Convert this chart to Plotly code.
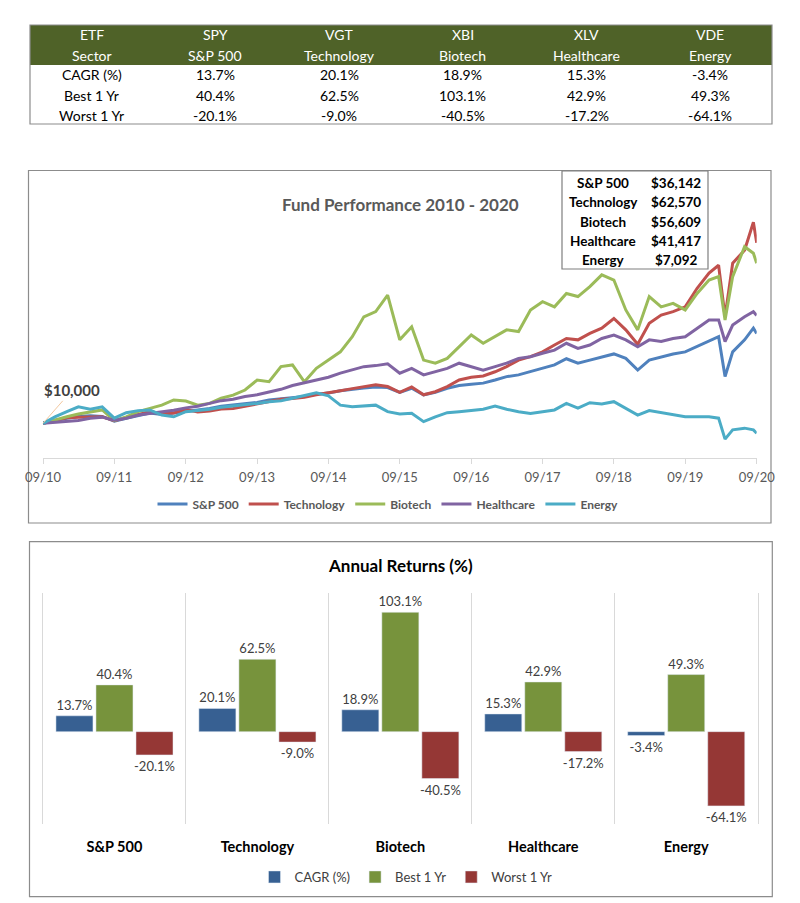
import plotly.graph_objects as go

W, H = 800, 903
FONT = "Lato"


def px(x):
    return x / W


def py(y):
    return 1 - y / H


# ---------------- data ----------------
etfs = ["SPY", "VGT", "XBI", "XLV", "VDE"]
sectors = ["S&P 500", "Technology", "Biotech", "Healthcare", "Energy"]
metrics = ["CAGR (%)", "Best 1 Yr", "Worst 1 Yr"]
cagr = [13.7, 20.1, 18.9, 15.3, -3.4]
best = [40.4, 62.5, 103.1, 42.9, 49.3]
worst = [-20.1, -9.0, -40.5, -17.2, -64.1]

dates = [
    "2010-09-01", "2010-11-01", "2011-01-01", "2011-03-01", "2011-05-01", "2011-07-01",
    "2011-09-01", "2011-11-01", "2012-01-01", "2012-03-01", "2012-05-01", "2012-07-01",
    "2012-09-01", "2012-11-01", "2013-01-01", "2013-03-01", "2013-05-01", "2013-07-01",
    "2013-09-01", "2013-11-01", "2014-01-01", "2014-03-01", "2014-05-01", "2014-07-01",
    "2014-09-01", "2014-11-01", "2015-01-01", "2015-03-01", "2015-05-01", "2015-07-01",
    "2015-09-01", "2015-11-01", "2016-01-01", "2016-03-01", "2016-05-01", "2016-07-01",
    "2016-09-01", "2016-11-01", "2017-01-01", "2017-03-01", "2017-05-01", "2017-07-01",
    "2017-09-01", "2017-11-01", "2018-01-01", "2018-03-01", "2018-05-01", "2018-07-01",
    "2018-09-01", "2018-11-01", "2019-01-01", "2019-03-01", "2019-05-01", "2019-07-01",
    "2019-09-01", "2019-11-01", "2020-01-01", "2020-02-19", "2020-03-23", "2020-05-01",
    "2020-07-01", "2020-08-15", "2020-09-01",
]

sp500 = [
    10000, 10800, 11500, 12000, 12200, 12000, 10600, 11500, 12300, 13000, 12600, 13000,
    13600, 13800, 14300, 15000, 15400, 15800, 16100, 16800, 17200, 17500, 17800, 18500,
    18800, 19500, 20000, 20300, 20600, 20400, 19000, 20200, 18300, 19000, 20200, 21000,
    21400, 21700, 22600, 23600, 24100, 25000, 26000, 27000, 28800, 27500, 28400, 29400,
    30200, 28900, 25500, 28400, 29400, 30200, 30800, 32300, 33800, 35200, 23600, 30800,
    34300, 37700, 36142,
]
technology = [
    10000, 10800, 11600, 11800, 11800, 11900, 10800, 11600, 12400, 13400, 12800, 13000,
    14000, 13300, 13600, 14200, 14300, 15000, 15500, 16300, 17000, 17200, 17600, 18300,
    18800, 19500, 20100, 20700, 21200, 20700, 19000, 20600, 18300, 19200, 20700, 22600,
    23400, 23800, 25000, 26500, 28400, 29400, 30800, 32800, 34700, 34300, 36200, 37700,
    40500, 37200, 33000, 39100, 41500, 42500, 43900, 49300, 53700, 56000, 41000, 56600,
    60400, 68500, 62570,
]
biotech = [
    10000, 11000, 11900, 12700, 13400, 13900, 10800, 11900, 13400, 14400, 15300, 16800,
    16500, 15300, 15800, 17300, 18200, 19700, 22600, 22100, 26500, 27000, 22100, 26000,
    28400, 30800, 35200, 41000, 42500, 47300, 34300, 38100, 28400, 27500, 28900, 32300,
    35700, 33300, 35200, 37200, 36700, 43000, 45400, 43900, 47800, 46900, 49800, 53200,
    51700, 43000, 37200, 46900, 43900, 44900, 43000, 47800, 51700, 52700, 40100, 52700,
    61400, 59500, 56609,
]
healthcare = [
    10000, 10200, 10600, 10800, 11500, 11800, 10900, 11500, 12400, 12800, 13200, 13800,
    14500, 15000, 15800, 16600, 17000, 17800, 18300, 19000, 19900, 21000, 21800, 22400,
    23400, 24600, 25500, 26500, 26800, 27300, 24600, 26000, 24100, 25000, 26000, 27500,
    26500, 25500, 26500, 27500, 28900, 29400, 30400, 31300, 33300, 31800, 32800, 34700,
    35700, 34300, 32300, 34300, 33800, 34700, 35200, 37700, 40100, 40100, 33800, 38600,
    41000, 42500, 41417,
]
energy = [
    10000, 11900, 13400, 14800, 14100, 14800, 11500, 13100, 13700, 13900, 12400, 11900,
    13400, 13700, 14100, 14700, 15000, 15300, 15800, 16300, 16600, 17300, 18200, 18900,
    18000, 15300, 14800, 15000, 15300, 13400, 12700, 12900, 10500, 11900, 13100, 13400,
    13700, 14100, 15000, 14100, 13400, 12900, 13400, 13900, 15800, 14400, 16000, 15600,
    16300, 14400, 12400, 13700, 13100, 12700, 11900, 11900, 11900, 11500, 5400, 8100,
    8600, 8100, 7092,
]

series_values = [sp500, technology, biotech, healthcare, energy]
line_colors = ["#4F81BD", "#C0504D", "#9BBB59", "#8064A2", "#4BACC6"]
bar_names = ["CAGR (%)", "Best 1 Yr", "Worst 1 Yr"]
bar_colors = ["#376092", "#77933C", "#953735"]

OLIVE = "#4F6228"
GRID = "#D9D9D9"
BORDER = "#8C8C8C"


def pct(v):
    return f"{v:.1f}%"


fig = go.Figure()

# ---------------- line chart ----------------
for name, vals, col in zip(sectors, series_values, line_colors):
    fig.add_trace(go.Scatter(x=dates, y=vals, name=name, mode="lines",
                             line=dict(color=col, width=3),
                             xaxis="x", yaxis="y", legend="legend"))

# ---------------- bar chart ----------------
for name, vals, col in zip(bar_names, [cagr, best, worst], bar_colors):
    fig.add_trace(go.Bar(x=sectors, y=vals, name=name, marker_color=col,
                         texttemplate="%{y:.1f}%", textposition="outside",
                         constraintext="none",
                         textfont=dict(family=FONT, size=13, color="#404040"),
                         cliponaxis=False, xaxis="x2", yaxis="y2", legend="legend2"))

fig.update_layout(
    width=W, height=H,
    margin=dict(l=0, r=0, t=0, b=0, autoexpand=False),
    paper_bgcolor="white", plot_bgcolor="white",
    font=dict(family=FONT, color="#595959"),
    barmode="group", bargap=0.16, bargroupgap=0.075,
    xaxis=dict(type="date", domain=[px(43), px(756.7)], anchor="y", automargin=False,
               range=["2010-09-01", "2020-09-01"], tick0="2010-09-01", dtick="M12",
               tickformat="%m/%y", showline=True, linecolor=GRID, linewidth=1,
               ticks="outside", ticklen=5, tickcolor=GRID,
               tickfont=dict(family=FONT, size=13, color="#595959"),
               showgrid=False, zeroline=False, ticklabelstandoff=3),
    yaxis=dict(domain=[py(457.7), py(182.8)], range=[0, 80000], anchor="x",
               visible=False, automargin=False),
    xaxis2=dict(type="category", domain=[px(43), px(757.7)], anchor="y2", automargin=False,
                tickson="boundaries", showgrid=True, gridcolor=GRID, gridwidth=1,
                ticks="", showline=False, zeroline=False,
                tickfont=dict(family=FONT, size=14.5, color="#000000", weight="bold"),
                ticklabelstandoff=12),
    yaxis2=dict(domain=[py(824.3), py(592.7)], range=[-80, 120], anchor="x2",
                automargin=False, showticklabels=False, showgrid=False, zeroline=False,
                showline=True, mirror=True, linecolor=GRID, linewidth=1, ticks=""),
    legend=dict(orientation="h", x=px(388), xanchor="center", y=py(504),
                yanchor="middle",
                font=dict(family=FONT, size=12, color="#595959", weight="bold"),
                bgcolor="rgba(0,0,0,0)", itemwidth=30),
    legend2=dict(orientation="h", x=px(406), xanchor="center", y=py(877),
                 yanchor="middle", font=dict(family=FONT, size=13, color="#404040"),
                 bgcolor="rgba(0,0,0,0)", itemwidth=30),
    showlegend=True,
)

# ---------------- summary table (header band + cell texts) ----------------
tbl_left, tbl_right, tbl_top, row_h = 30, 772, 25, 20
n_cols = 6
col_w = (tbl_right - tbl_left) / n_cols
table_rows = [
    ["ETF"] + etfs,
    ["Sector"] + sectors,
    [metrics[0]] + [pct(v) for v in cagr],
    [metrics[1]] + [pct(v) for v in best],
    [metrics[2]] + [pct(v) for v in worst],
]
n_header_rows = 2
for r, row in enumerate(table_rows):
    for c, txt in enumerate(row):
        fig.add_annotation(
            text=txt, xref="paper", yref="paper",
            x=px(tbl_left + col_w * (c + 0.5)), y=py(tbl_top + row_h * (r + 0.5)),
            showarrow=False, xanchor="center", yanchor="middle",
            font=dict(family=FONT, size=14,
                      color="white" if r < n_header_rows else "#000000"))

# ---------------- final value box ----------------
box_cols = [603, 676]
box_first, box_step = 183, 19.3
for r, (name, vals) in enumerate(zip(sectors, series_values)):
    for c, txt in enumerate([name, f"${vals[-1]:,}"]):
        fig.add_annotation(
            text=f"<b>{txt}</b>", xref="paper", yref="paper",
            x=px(box_cols[c]), y=py(box_first + box_step * r),
            showarrow=False, xanchor="center", yanchor="middle",
            font=dict(family=FONT, size=13.5, color="#000000"))

fig.add_annotation(text="<b>Fund Performance 2010 - 2020</b>", xref="paper", yref="paper",
                   x=0.5, y=py(192), showarrow=False,
                   font=dict(family=FONT, size=17, color="#595959"))
fig.add_annotation(text="<b>Annual Returns (%)</b>", xref="paper", yref="paper",
                   x=0.5, y=py(565), showarrow=False,
                   font=dict(family=FONT, size=17, color="#000000"))
fig.add_annotation(text="<b>$10,000</b>", x=dates[0], y=sp500[0], xref="x", yref="y",
                   showarrow=True, arrowhead=0, arrowwidth=1, arrowcolor="#F2C8A0",
                   ax=29, ay=-33, font=dict(family=FONT, size=15, color="#404040"))

shapes = [
    dict(type="rect", xref="paper", yref="paper", x0=px(tbl_left), x1=px(tbl_right),
         y0=py(tbl_top + row_h * n_header_rows), y1=py(tbl_top),
         fillcolor=OLIVE, line=dict(width=0), layer="below"),
    dict(type="rect", xref="paper", yref="paper", x0=px(tbl_left), x1=px(tbl_right),
         y0=py(tbl_top + row_h * len(table_rows) - 1), y1=py(tbl_top),
         line=dict(color=BORDER, width=1.2), layer="below"),
    dict(type="rect", xref="paper", yref="paper", x0=px(28.5), x1=px(771),
         y0=py(523), y1=py(170.5), line=dict(color=BORDER, width=1.2), layer="below"),
    dict(type="rect", xref="paper", yref="paper", x0=px(29.5), x1=px(772.3),
         y0=py(896.7), y1=py(541.7), line=dict(color=BORDER, width=1.2), layer="below"),
    dict(type="rect", xref="paper", yref="paper", x0=px(562), x1=px(708),
         y0=py(269), y1=py(171), fillcolor="white",
         line=dict(color="#7F7F7F", width=1.2), layer="above"),
]
fig.update_layout(shapes=shapes)

fig.write_html("out.html", config={"displayModeBar": False},
               post_script="document.body.style.margin='0';")
